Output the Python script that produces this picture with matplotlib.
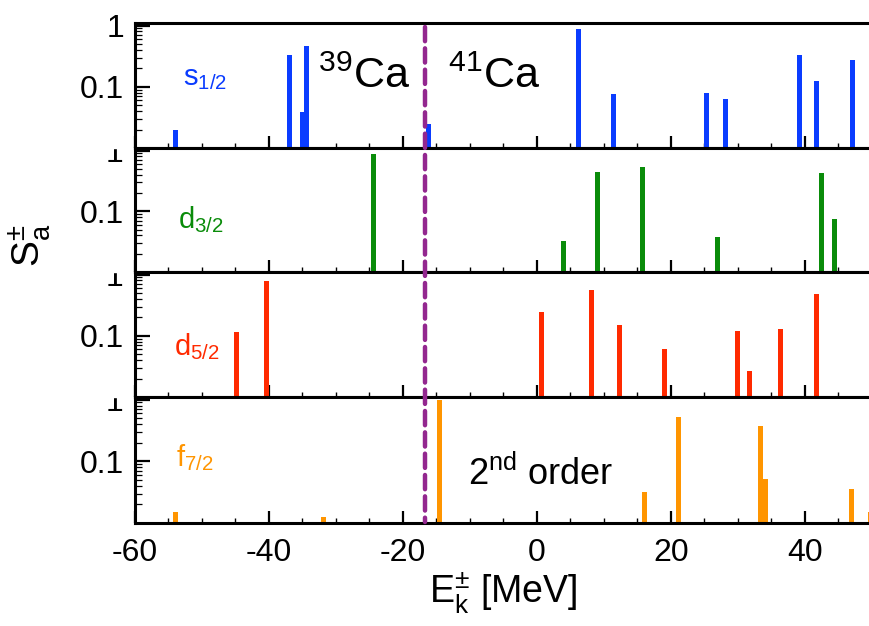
import numpy as np
import matplotlib
matplotlib.use('Agg')
import matplotlib.pyplot as plt
import matplotlib.transforms as mtransforms
from matplotlib.lines import Line2D
from matplotlib.patches import Rectangle
from matplotlib.ticker import LogLocator, NullFormatter, MultipleLocator

plt.rcParams['font.family'] = ['Liberation Sans', 'DejaVu Sans']
plt.rcParams['mathtext.fontset'] = 'custom'
plt.rcParams['mathtext.rm'] = 'Liberation Sans'
plt.rcParams['mathtext.it'] = 'Liberation Sans:italic'
plt.rcParams['axes.unicode_minus'] = False

# strengths per partial wave: (energy [MeV], S)
s12_E = [-53.9, -36.9, -35.0, -34.4, -16.1, 6.2, 11.4, 25.3, 28.2, 39.3, 41.7, 47.2]
s12_S = [0.020, 0.335, 0.039, 0.47, 0.025, 0.88, 0.076, 0.080, 0.062, 0.326, 0.125, 0.274]

d32_E = [-24.4, 4.0, 9.1, 15.8, 23.0, 27.0, 42.5, 44.5]
d32_S = [0.89, 0.032, 0.447, 0.526, 0.0105, 0.037, 0.42, 0.074]

d52_E = [-44.8, -40.3, 0.75, 8.1, 12.3, 19.1, 30.0, 31.8, 36.4, 41.7]
d52_S = [0.115, 0.79, 0.245, 0.567, 0.151, 0.061, 0.121, 0.0265, 0.129, 0.488]

f72_E = [-54.0, -31.8, -14.6, 16.1, 21.2, 33.4, 34.1, 47.0, 49.8]
f72_S = [0.0148, 0.0124, 0.97, 0.032, 0.52, 0.37, 0.052, 0.036, 0.0148]

fermi_E = -16.7

panels = [
    (s12_E, s12_S, '#0A3CFF', r'$\mathregular{s_{1/2}}$', (0.065, 0.50)),
    (d32_E, d32_S, '#0A8C0A', r'$\mathregular{d_{3/2}}$', (0.058, 0.35)),
    (d52_E, d52_S, '#FF2A00', r'$\mathregular{d_{5/2}}$', (0.053, 0.335)),
    (f72_E, f72_S, '#FF9500', r'$\mathregular{f_{7/2}}$', (0.056, 0.45)),
]

W, H = 869, 626
fig = plt.figure(figsize=(W / 100, H / 100), dpi=100)
left = 135 / W
right = 1.003
tops = [23, 148, 272, 397]
bots = [148, 272, 397, 523]
tick_fs = 23

axes = []
for i, (E, S, col, lab, (tx, ty)) in enumerate(panels):
    ax = fig.add_axes([left, 1 - bots[i] / H, right - left, (bots[i] - tops[i]) / H])
    ax.bar(E, np.array(S) - 1e-3, width=0.75, bottom=1e-3, color=col, zorder=2)
    ax.set_yscale('log')
    ax.set_ylim(0.01, 1.1)
    ax.set_xlim(-60, 50)
    ax.set_yticks([0.1, 1])
    ax.set_yticklabels(['0.1', '1' if i == 0 else ''])
    ax.yaxis.set_minor_locator(LogLocator(base=10, subs=np.arange(2, 10)))
    ax.yaxis.set_minor_formatter(NullFormatter())
    ax.xaxis.set_major_locator(MultipleLocator(20))
    ax.xaxis.set_minor_locator(MultipleLocator(5))
    ax.tick_params(axis='both', which='both', direction='in', top=False, right=False)
    ax.tick_params(axis='y', which='major', length=11, width=1.6, labelsize=tick_fs, pad=8)
    ax.tick_params(axis='y', which='minor', length=5, width=0.9)
    ax.tick_params(axis='x', which='major', length=8.5, width=1.6, labelsize=tick_fs, pad=11)
    ax.tick_params(axis='x', which='minor', length=3.5, width=1.0)
    for sp in ax.spines.values():
        sp.set_linewidth(2.2)
    if i < 3:
        ax.set_xticklabels([])
    ax.text(tx, ty, lab, color=col, fontsize=21, transform=ax.transAxes, va='baseline')
    axes.append(ax)

# the "1" labels of the lower panels are half hidden under the panel above
for i in range(1, 4):
    fig.text(123 / W, 1 - (tops[i] + 6) / H, '1', fontsize=tick_fs, ha='right', va='center')
    fig.add_artist(Rectangle((55 / W, 1 - tops[i] / H), 75 / W, 16 / H,
                             transform=fig.transFigure, color='white', zorder=5))

axes[0].text(0.249, 0.484, r'$\mathregular{^{39}Ca}$', fontsize=31, transform=axes[0].transAxes, va='baseline')
axes[0].text(0.425, 0.484, r'$\mathregular{^{41}Ca}$', fontsize=31, transform=axes[0].transAxes, va='baseline')
axes[3].text(0.452, 0.30, r'$\mathregular{2^{nd}}$ order', fontsize=26, transform=axes[3].transAxes, va='baseline')

# Fermi energy line across all panels
trans = mtransforms.blended_transform_factory(axes[3].transData, fig.transFigure)
fig.add_artist(Line2D([fermi_E, fermi_E], [1 - 27 / H, 1 - 522 / H], transform=trans,
                      color='#93278F', lw=3.2, ls=(0, (3.2, 1.6)), dash_capstyle='round', zorder=6))

axes[3].set_xlabel(r'$\mathregular{E_k^{\pm}}$ [MeV]', fontsize=27, labelpad=2)
fig.text(30 / W, 1 - 245 / H, r'$\mathregular{S_a^{\pm}}$', fontsize=28, rotation=90, ha='center', va='center')

fig.savefig('out.png', dpi=100)
